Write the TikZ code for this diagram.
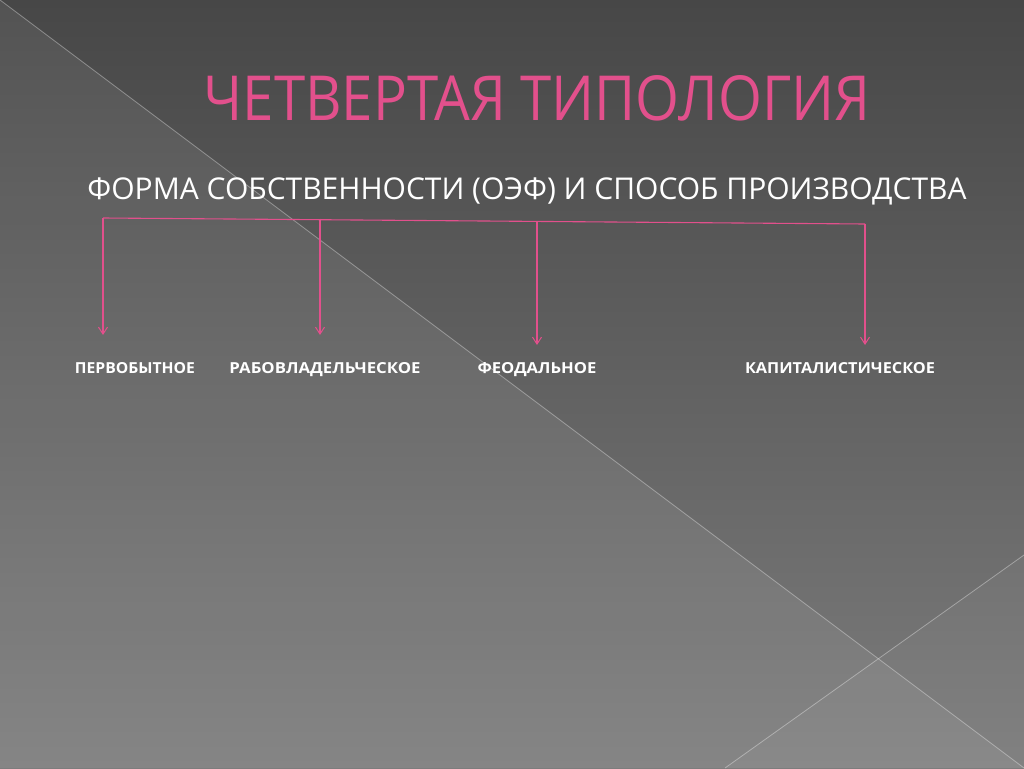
\documentclass[tikz,border=0pt]{standalone}
\usepackage{fontspec}
\setmainfont{Open Sans}
\usetikzlibrary{arrows.meta}
\definecolor{pinkc}{HTML}{E2508C}
\definecolor{bgtop}{HTML}{474747}
\definecolor{bgbot}{HTML}{7C7C7C}
\tikzset{
  conn/.style={draw=pinkc, line width=1.1pt},
  arr/.style={conn, -{Straight Barb[length=7pt,width=9pt,line width=1pt]}},
  lab/.style={text=white, inner sep=0pt, anchor=base},
  edgeline/.style={draw=white, opacity=0.35, line width=0.8pt}
}
\begin{document}
\begin{tikzpicture}[x=1pt,y=-1pt]
\useasboundingbox (0,0) rectangle (1024,768);
% background
\shade[top color=bgtop, bottom color=bgbot] (0,0) rectangle (1024,768);
\fill[white, opacity=0.07] (0,0) -- (1024,768) -- (0,768) -- cycle;
\fill[white, opacity=0.04] (725,768) -- (1024,555) -- (1024,768) -- cycle;
\draw[edgeline] (0,0) -- (1024,768);
\draw[edgeline] (725,768) -- (1024,555);
% title
\node[lab, text=pinkc] (title) at (537,120) {\resizebox{667pt}{45pt}{ЧЕТВЕРТАЯ ТИПОЛОГИЯ}};
\node[lab] (sub) at (527,199) {\resizebox{879pt}{!}{ФОРМА СОБСТВЕННОСТИ (ОЭФ) И СПОСОБ ПРОИЗВОДСТВА}};
% connector bar
\coordinate (b1) at (103,218);
\coordinate (b2) at (320,218.5);
\coordinate (b3) at (537,221.5);
\coordinate (b4) at (865,224);
\draw[conn] (b1) -- (b4);
% labels
\node[lab] (l1) at (135,373.5) {\resizebox{120pt}{11pt}{\bfseries ПЕРВОБЫТНОЕ}};
\node[lab] (l2) at (325,373.5) {\resizebox{191pt}{11pt}{\bfseries РАБОВЛАДЕЛЬЧЕСКОЕ}};
\node[lab] (l3) at (537,373.5) {\resizebox{119pt}{11pt}{\bfseries ФЕОДАЛЬНОЕ}};
\node[lab] (l4) at (840,373.5) {\resizebox{190pt}{11pt}{\bfseries КАПИТАЛИСТИЧЕСКОЕ}};
% arrows
\coordinate (e1) at (103,335);
\coordinate (e2) at (320,335);
\coordinate (e3) at (537,345);
\coordinate (e4) at (865,345);
\draw[arr] (b1) -- (e1);
\draw[arr] (b2) -- (e2);
\draw[arr] (b3) -- (e3);
\draw[arr] (b4) -- (e4);
\end{tikzpicture}
\end{document}
